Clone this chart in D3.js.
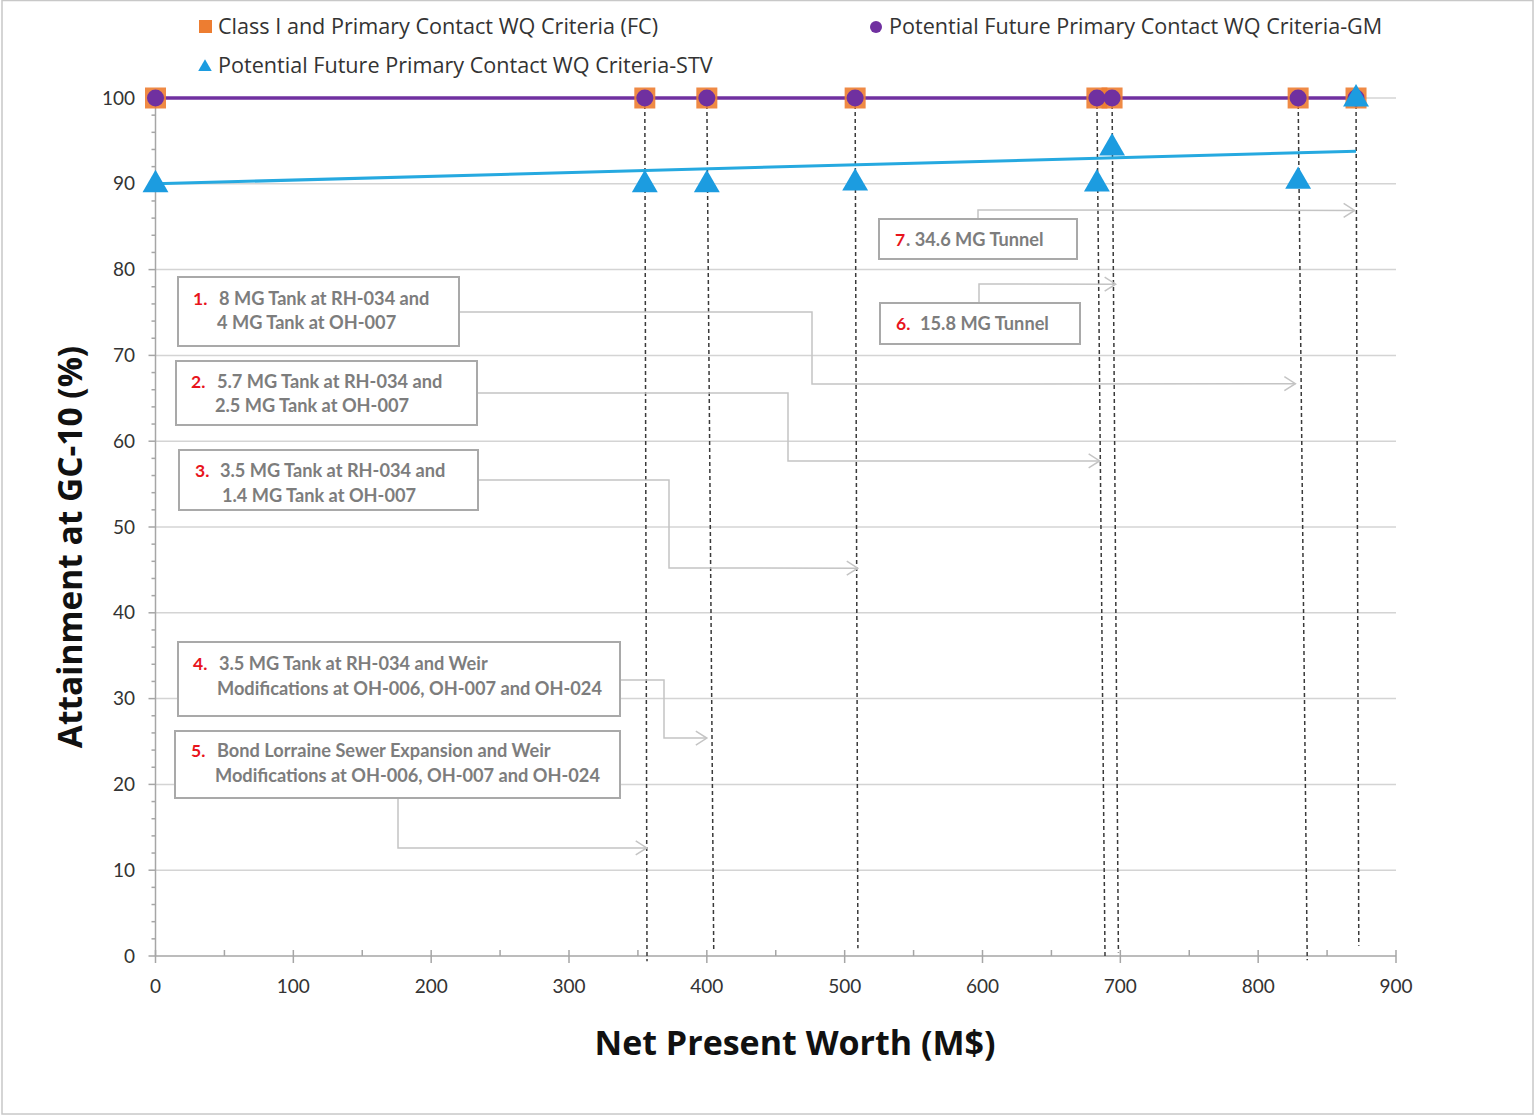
<!DOCTYPE html>
<html>
<head>
<meta charset="utf-8">
<script src="https://cdn.jsdelivr.net/npm/d3@7"></script>
<style>
  html, body { margin: 0; padding: 0; background: #fff; }
  svg { display: block; }
</style>
</head>
<body>
<div id="chart"></div>
<script>
// Données
const costs = [0, 355, 400, 507.6, 683, 694, 829, 871];          // Net Present Worth (M$)
const attainFC = [100, 100, 100, 100, 100, 100, 100, 100];       // Class I and Primary Contact (FC)
const attainGM = [100, 100, 100, 100, 100, 100, 100, 100];       // Potential Future - GM
const attainSTV = [90, 90, 90, 90.2, 90.1, 94.3, 90.4, 100];     // Potential Future - STV
const trendSTV = [[0, 90], [871, 93.8]];                          // droite de tendance STV

const xTicks = [0, 100, 200, 300, 400, 500, 600, 700, 800, 900];
const yTicks = [0, 10, 20, 30, 40, 50, 60, 70, 80, 90, 100];

// lignes pointillées verticales (début au point, fin près de l'axe)
const dropTop = [355, 400, 507.6, 683, 694, 829, 871];
const dropBottom = [356.6, 405, 509.6, 688.9, 698.6, 835.6, 873];
const dropEnd = [-0.6, 0.7, 0.9, -0.3, 0.4, -0.5, 1.2];

const legendLabels = [
  "Class I and Primary Contact WQ Criteria (FC)",
  "Potential Future Primary Contact WQ Criteria-GM",
  "Potential Future Primary Contact WQ Criteria-STV"
];

// annotations : numéro, texte, cible (x, y en unités du graphique)
const annNums = ["1.", "2.", "3.", "4.", "5.", "6.", "7"];
const annLines = [
  ["8 MG Tank at RH-034 and", "4 MG Tank at OH-007"],
  ["5.7 MG Tank at RH-034 and", "2.5 MG Tank at OH-007"],
  ["3.5 MG Tank at RH-034 and", "1.4 MG Tank at OH-007"],
  ["3.5 MG Tank at RH-034 and Weir", "Modifications at OH-006, OH-007 and OH-024"],
  ["Bond Lorraine Sewer Expansion and Weir", "Modifications at OH-006, OH-007 and OH-024"],
  ["15.8 MG Tunnel"],
  [". 34.6 MG Tunnel"]
];
const annTargets = [[827, 66.7], [685, 57.7], [509.5, 45.2], [400, 25.4], [356.4, 12.6], [696.6, 78.3], [870, 86.9]];

document.addEventListener('DOMContentLoaded', function() {
    const W = 1536, H = 1117;
    const x = d3.scaleLinear().domain([0, 900]).range([155.5, 1396]);
    const y = d3.scaleLinear().domain([0, 100]).range([956, 98]);

    const svg = d3.select("#chart").append("svg")
        .attr("width", W).attr("height", H);

    svg.append("rect")
        .attr("x", 2).attr("y", 0.5).attr("width", 1531).attr("height", 1113.5)
        .attr("fill", "#fff").attr("stroke", "#c8c8c8").attr("stroke-width", 1.5);

    const font = "Lato, 'Open Sans', sans-serif";
    const gridCol = "#d4d4d4", axisCol = "#a6a6a6";

    // grille horizontale
    svg.append("g").selectAll("line").data(yTicks.filter(d => d > 0)).join("line")
        .attr("x1", x(0)).attr("x2", x(900))
        .attr("y1", d => y(d)).attr("y2", d => y(d))
        .attr("stroke", gridCol).attr("stroke-width", 1.5);

    // axe Y
    svg.append("line").attr("x1", x(0)).attr("x2", x(0)).attr("y1", y(0)).attr("y2", y(100))
        .attr("stroke", axisCol).attr("stroke-width", 1.5);
    svg.append("g").selectAll("line").data(d3.range(0, 101, 2)).join("line")
        .attr("x1", d => d % 10 === 0 ? x(0) - 7 : x(0) - 4).attr("x2", x(0))
        .attr("y1", d => y(d)).attr("y2", d => y(d))
        .attr("stroke", axisCol).attr("stroke-width", 1.5);
    svg.append("g").selectAll("text").data(yTicks).join("text")
        .attr("x", 135).attr("y", d => y(d)).attr("dy", "0.35em")
        .attr("text-anchor", "end")
        .style("font-family", font).style("font-size", "19px").attr("fill", "#333")
        .text(d => d);

    // axe X
    svg.append("line").attr("x1", x(0)).attr("x2", x(900)).attr("y1", y(0)).attr("y2", y(0))
        .attr("stroke", axisCol).attr("stroke-width", 1.5);
    svg.append("g").selectAll("line").data(d3.range(0, 901, 50)).join("line")
        .attr("x1", d => x(d)).attr("x2", d => x(d))
        .attr("y1", y(0) - 6)
        .attr("y2", d => d % 100 === 0 ? y(0) + 7 : y(0))
        .attr("stroke", axisCol).attr("stroke-width", 1.5);
    svg.append("g").selectAll("text").data(xTicks).join("text")
        .attr("x", d => x(d)).attr("y", 986).attr("dy", "0.35em")
        .attr("text-anchor", "middle")
        .style("font-family", font).style("font-size", "19px").attr("fill", "#333")
        .text(d => d);

    // titres des axes
    svg.append("text")
        .attr("transform", "translate(82," + 547 + ") rotate(-90)")
        .attr("text-anchor", "middle")
        .style("font-family", "'Open Sans', sans-serif").style("font-weight", 700).style("font-size", "33.5px")
        .attr("fill", "#111")
        .text("Attainment at GC-10 (%)");
    svg.append("text")
        .attr("x", 795).attr("y", 1055)
        .attr("text-anchor", "middle")
        .style("font-family", "'Open Sans', sans-serif").style("font-weight", 700).style("font-size", "34px")
        .attr("fill", "#111")
        .text("Net Present Worth (M$)");

    // lignes pointillées verticales
    svg.append("g").selectAll("line").data(dropTop).join("line")
        .attr("x1", d => x(d)).attr("y1", y(100))
        .attr("x2", (d, i) => x(dropBottom[i])).attr("y2", (d, i) => y(dropEnd[i]))
        .attr("stroke", "#3a3a3a").attr("stroke-width", 1.5)
        .attr("stroke-dasharray", "4,3");

    // annotations
    const layout = [
        {box: [178, 277, 281, 69], path: [[459, 312], [812, 312], [812, 384]], nx: 193, tx: [219, 217], ty: [299, 323]},
        {box: [176, 361, 301, 64], path: [[477, 393], [788, 393], [788, 461]], nx: 191, tx: [217, 215], ty: [382, 406]},
        {box: [179, 450, 299, 60], path: [[478, 480], [669, 480], [669, 568]], nx: 195, tx: [220, 222], ty: [471, 496]},
        {box: [178, 642, 442, 74], path: [[620, 680], [664, 680], [664, 738]], nx: 193, tx: [219, 217], ty: [664, 689]},
        {box: [175, 731, 445, 67], path: [[398, 798], [398, 848]], nx: 191, tx: [217, 215], ty: [751, 776]},
        {box: [880, 303, 200, 41], path: [[979, 303], [979, 284]], nx: 896, tx: [920], ty: [324]},
        {box: [879, 219, 198, 40], path: [[978, 219], [978, 210]], nx: 895, tx: [906], ty: [240]}
    ];
    const annCol = "#c4c4c4";
    const ann = svg.append("g");
    layout.forEach((L, i) => {
        const tip = [x(annTargets[i][0]), y(annTargets[i][1])];
        const pts = L.path.concat([tip]);
        ann.append("path")
            .attr("d", d3.line()(pts))
            .attr("fill", "none").attr("stroke", annCol).attr("stroke-width", 1.5);
        ann.append("path")
            .attr("d", d3.line()([[tip[0] - 11, tip[1] - 7], tip, [tip[0] - 11, tip[1] + 7]]))
            .attr("fill", "none").attr("stroke", annCol).attr("stroke-width", 1.5);
        ann.append("rect")
            .attr("x", L.box[0]).attr("y", L.box[1]).attr("width", L.box[2]).attr("height", L.box[3])
            .attr("fill", "#fff").attr("stroke", "#a9a9a9").attr("stroke-width", 2);
        ann.append("text")
            .attr("x", L.nx).attr("y", L.ty[0]).attr("dy", "0.35em")
            .style("font-family", font).style("font-weight", 700).style("font-size", "17.5px")
            .attr("fill", "#e8141c").text(annNums[i]);
        annLines[i].forEach((t, j) => {
            ann.append("text")
                .attr("x", L.tx[j]).attr("y", L.ty[j]).attr("dy", "0.35em")
                .style("font-family", font).style("font-weight", 700).style("font-size", "18.2px")
                .attr("fill", "#7d7d7d").text(t);
        });
    });

    // séries
    const pts = costs.map((c, i) => ({x: c, fc: attainFC[i], gm: attainGM[i], stv: attainSTV[i]}));

    svg.append("path").datum(pts)
        .attr("d", d3.line().x(d => x(d.x)).y(d => y(d.gm)))
        .attr("fill", "none").attr("stroke", "#7030a0").attr("stroke-width", 3.5);

    svg.append("path").datum(trendSTV)
        .attr("d", d3.line().x(d => x(d[0])).y(d => y(d[1])))
        .attr("fill", "none").attr("stroke", "#26a9e0").attr("stroke-width", 3);

    svg.append("g").selectAll("rect").data(pts).join("rect")
        .attr("x", d => x(d.x) - 10.5).attr("y", d => y(d.fc) - 10.5)
        .attr("width", 21).attr("height", 21)
        .attr("fill", "#ed7d31").attr("opacity", 0.9);

    svg.append("g").selectAll("circle").data(pts).join("circle")
        .attr("cx", d => x(d.x)).attr("cy", d => y(d.gm)).attr("r", 8.5)
        .attr("fill", "#7030a0");

    const tri = d3.symbol().type(d3.symbolTriangle).size(290);
    svg.append("g").selectAll("path").data(pts).join("path")
        .attr("transform", d => "translate(" + x(d.x) + "," + (y(d.stv) + 1) + ")")
        .attr("d", tri)
        .attr("fill", "#1c9ce0");

    // légende
    const lg = svg.append("g").style("font-family", "'Open Sans', sans-serif").style("font-size", "21.6px").attr("fill", "#333");
    lg.append("rect").attr("x", 199).attr("y", 20).attr("width", 13).attr("height", 13).attr("fill", "#ed7d31");
    lg.append("text").attr("x", 218).attr("y", 26).attr("dy", "0.35em").text(legendLabels[0]);
    lg.append("circle").attr("cx", 876).attr("cy", 27).attr("r", 6).attr("fill", "#7030a0");
    lg.append("text").attr("x", 889).attr("y", 26).attr("dy", "0.35em").text(legendLabels[1]);
    lg.append("path").attr("transform", "translate(205,67)")
        .attr("d", d3.symbol().type(d3.symbolTriangle).size(80)).attr("fill", "#1c9ce0");
    lg.append("text").attr("x", 218).attr("y", 65).attr("dy", "0.35em").text(legendLabels[2]);
});
</script>
</body>
</html>
